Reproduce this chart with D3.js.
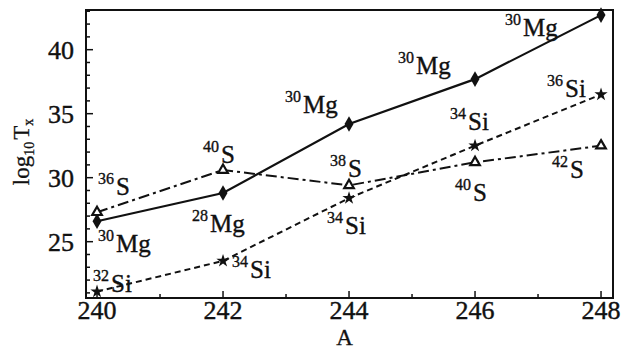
<!DOCTYPE html>
<html>
<head>
<meta charset="utf-8">
<script src="https://cdn.jsdelivr.net/npm/d3@7"></script>
<style>
body{margin:0;background:#fff;}
svg{display:block;}
.TickLabel{font-family:"Liberation Serif","DejaVu Serif",serif;font-size:26px;fill:#111;stroke:#111;stroke-width:0.4;}
.AxisTitle{font-family:"Liberation Serif","DejaVu Serif",serif;font-size:23px;fill:#111;stroke:#111;stroke-width:0.3;}
.Nuc{font-family:"Liberation Serif","DejaVu Serif",serif;fill:#111;stroke:#111;stroke-width:0.35;}
</style>
</head>
<body>
<div id="idChart"></div>
<script>
// mass numbers A
var aMass=[240,242,244,246,248];
// log10 Tx
var aMg=[26.6,28.8,34.2,37.7,42.7];
var aS=[27.3,30.6,29.4,31.2,32.5];
var aSi=[21.1,23.5,28.4,32.5,36.5];
var aXTicks=[240,242,244,246,248];
var aYTicks=[25,30,35,40];
// cluster labels: [series, point index, mass, symbol]
var aLabels=[
	["S",0,"36","S"],["Mg",0,"30","Mg"],["Si",0,"32","Si"],
	["Mg",1,"28","Mg"],["Si",1,"34","Si"],["S",1,"40","S"],
	["Mg",2,"30","Mg"],["S",2,"38","S"],["Si",2,"34","Si"],
	["Mg",3,"30","Mg"],["Si",3,"34","Si"],["S",3,"40","S"],
	["Mg",4,"30","Mg"],["Si",4,"36","Si"],["S",4,"42","S"]
];
// label offsets from the point (left of superscript, baseline)
var aLabelOff=[
	[1,-17],[1,31],[-4,0],
	[-31,39],[9,17],[-20,-7],
	[-64,-11],[-19,-8],[-22,36],
	[-77,-5],[-25,-16],[-20,39],
	[-96,21],[-54,3],[-49,32]
];

var iWidth=624;
var iHeight=352;
var iLeft=86, iRight=613, iTop=10, iBottom=298;

var mySvg=d3.select("#idChart").append("svg")
	.attr("width",iWidth)
	.attr("height",iHeight);

var xAxes=d3.scaleLinear().domain([239.825,248.19]).range([iLeft,iRight]);
var yAxes=d3.scaleLinear().domain([20.6,43.1]).range([iBottom,iTop]);

var mySeries={Mg:aMg,S:aS,Si:aSi};

// frame
mySvg.append("rect")
	.attr("x",iLeft).attr("y",iTop)
	.attr("width",iRight-iLeft).attr("height",iBottom-iTop)
	.attr("fill","none").attr("stroke","#111").attr("stroke-width",2);

// inward ticks
var myYMinor=d3.range(21,44,1);
mySvg.append("g").selectAll("line").data(myYMinor).enter().append("line")
	.attr("x1",iLeft).attr("x2",function(d){return iLeft+(d%5==0?7:4);})
	.attr("y1",function(d){return yAxes(d);}).attr("y2",function(d){return yAxes(d);})
	.attr("stroke","#111").attr("stroke-width",1.5);
var myXMinor=d3.range(240,249,1);
mySvg.append("g").selectAll("line").data(myXMinor).enter().append("line")
	.attr("x1",function(d){return xAxes(d);}).attr("x2",function(d){return xAxes(d);})
	.attr("y1",iBottom).attr("y2",function(d){return iBottom-(d%2==0?7:4);})
	.attr("stroke","#111").attr("stroke-width",1.5);

// tick labels
mySvg.append("g").selectAll("text").data(aYTicks).enter().append("text")
	.attr("class","TickLabel")
	.attr("x",74)
	.attr("y",function(d){return yAxes(d)+9;})
	.attr("text-anchor","end")
	.text(function(d){return d;});
mySvg.append("g").selectAll("text").data(aXTicks).enter().append("text")
	.attr("class","TickLabel")
	.attr("x",function(d){return xAxes(d);})
	.attr("y",319)
	.attr("text-anchor","middle")
	.text(function(d){return d;});

// axis titles
mySvg.append("text").attr("class","AxisTitle")
	.attr("x",(iLeft+iRight)/2-5).attr("y",345)
	.attr("font-size",21)
	.attr("text-anchor","middle").text("A");

var myYTitle=mySvg.append("text").attr("class","AxisTitle")
	.attr("transform","translate(29,152) rotate(-90)")
	.attr("text-anchor","middle");
myYTitle.append("tspan").text("log");
myYTitle.append("tspan").attr("font-size",14).attr("dy",5).text("10");
myYTitle.append("tspan").attr("dy",-5).attr("dx",2).text("T");
myYTitle.append("tspan").attr("font-size",14).attr("dy",4).text("x");

// lines
var myLine=d3.line()
	.x(function(d,i){return xAxes(aMass[i]);})
	.y(function(d){return yAxes(d);});

mySvg.append("path").datum(aMg).attr("d",myLine)
	.attr("fill","none").attr("stroke","#111").attr("stroke-width",2.2);
mySvg.append("path").datum(aS).attr("d",myLine)
	.attr("fill","none").attr("stroke","#111").attr("stroke-width",2)
	.attr("stroke-dasharray","11,4,3,4");
mySvg.append("path").datum(aSi).attr("d",myLine)
	.attr("fill","none").attr("stroke","#111").attr("stroke-width",2)
	.attr("stroke-dasharray","6,4");

// markers
var myDiamond=d3.symbol().type(d3.symbolDiamond).size(70);
mySvg.append("g").selectAll("path").data(aMg).enter().append("path")
	.attr("d",myDiamond)
	.attr("transform",function(d,i){return "translate("+xAxes(aMass[i])+","+yAxes(d)+")";})
	.attr("fill","#111");
var myTri=d3.symbol().type(d3.symbolTriangle).size(40);
mySvg.append("g").selectAll("path").data(aS).enter().append("path")
	.attr("d",myTri)
	.attr("transform",function(d,i){return "translate("+xAxes(aMass[i])+","+yAxes(d)+")";})
	.attr("fill","#fff").attr("stroke","#111").attr("stroke-width",2.2);
var myStar=d3.symbol().type(d3.symbolStar).size(55);
mySvg.append("g").selectAll("path").data(aSi).enter().append("path")
	.attr("d",myStar)
	.attr("transform",function(d,i){return "translate("+xAxes(aMass[i])+","+yAxes(d)+")";})
	.attr("fill","#111");

// nucleus labels
var myLabels=mySvg.append("g").selectAll("text").data(aLabels).enter().append("text")
	.attr("class","Nuc")
	.attr("x",function(d,i){return xAxes(aMass[d[1]])+aLabelOff[i][0];})
	.attr("y",function(d,i){return yAxes(mySeries[d[0]][d[1]])+aLabelOff[i][1];});
myLabels.append("tspan").attr("font-size",16).attr("dy",-11).text(function(d){return d[2];});
myLabels.append("tspan").attr("font-size",25).attr("dx",2).attr("dy",11).text(function(d){return d[3];});
</script>
</body>
</html>
